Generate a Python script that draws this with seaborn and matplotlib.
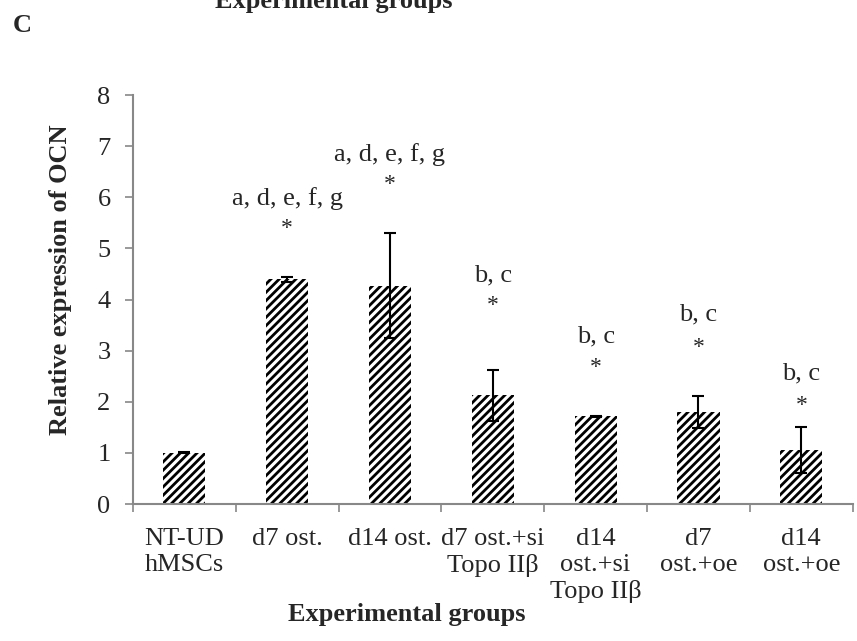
import numpy as np
import pandas as pd
import seaborn as sns
import matplotlib.pyplot as plt

groups = ["NT-UD\nhMSCs", "d7 ost.", "d14 ost.", "d7 ost.+si\nTopo II\u03b2",
          "d14\nost.+si\nTopo II\u03b2", "d7\nost.+oe", "d14\nost.+oe"]
expression = [1.0, 4.40, 4.27, 2.13, 1.72, 1.80, 1.06]
errors = [0.01, 0.05, 1.03, 0.50, 0.01, 0.32, 0.45]
letters = ["", "a, d, e, f, g", "a, d, e, f, g", "b, c", "b, c", "b, c", "b, c"]
letter_y = [None, 5.98, 6.83, 4.48, 3.27, 3.70, 2.56]
star_y = [None, 5.38, 6.26, 3.88, 2.67, 3.06, 1.92]

sns.set_style("white")
plt.rcParams['font.family'] = ['Liberation Serif', 'DejaVu Serif']
plt.rcParams['hatch.linewidth'] = 2.0

FS = 19

df = pd.DataFrame({"group": groups, "expression": expression})

fig = plt.figure(figsize=(8.57, 6.41), dpi=100)
ax = fig.add_axes([0.155, 0.2137, 0.84, 0.638])

sns.barplot(data=df, x="group", y="expression", color="white", width=0.41,
            edgecolor="black", linewidth=0, hatch="////", ax=ax)

x = np.arange(len(groups))
ax.errorbar(x, expression, yerr=errors, fmt="none", ecolor="black",
            elinewidth=1.5, capsize=4, capthick=1.5)

for i in range(1, len(groups)):
    ax.text(i, letter_y[i], letters[i], ha="center", va="center", fontsize=FS)
    ax.text(i, star_y[i], "*", ha="center", va="center", fontsize=17)

ax.set_ylim(0, 8)
ax.set_xlim(-0.5, len(groups) - 0.5)
ax.set_yticks(range(0, 9))
ax.set_xticks(x)
ax.set_xticks(np.arange(-0.5, len(groups), 1), minor=True)
ax.tick_params(axis="x", which="major", length=0, labelsize=FS, pad=17)
ax.tick_params(axis="x", which="minor", length=6, width=1.2, color="#888888",
               direction="out", bottom=True)
ax.tick_params(axis="y", length=6, width=1.2, color="#888888", direction="out",
               left=True, labelsize=FS, pad=10)
for lbl in ax.get_xticklabels():
    lbl.set_va("top")
    lbl.set_linespacing(1.25)

for s in ["top", "right"]:
    ax.spines[s].set_visible(False)
for s in ["left", "bottom"]:
    ax.spines[s].set_color("#888888")
    ax.spines[s].set_linewidth(1.5)

ax.set_xlabel("Experimental groups", fontsize=FS, fontweight="bold", va="baseline")
ax.xaxis.set_label_coords(0.381, -0.286)
ax.set_ylabel("Relative expression of OCN", fontsize=FS, fontweight="bold", va="center")
ax.yaxis.set_label_coords(-0.101, 0.548)

fig.text(0.0152, 0.950, "C", fontsize=FS, fontweight="bold", va="baseline")
fig.text(0.389, 0.9875, "Experimental groups", fontsize=FS, fontweight="bold",
         ha="center", va="baseline")

fig.savefig("out.png", dpi=100)
